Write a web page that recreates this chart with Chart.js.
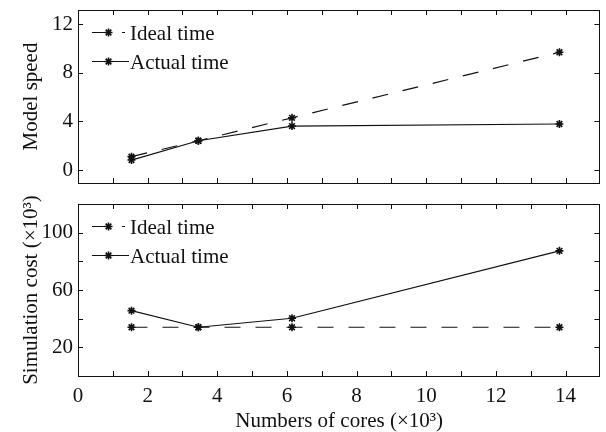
<!DOCTYPE html>
<html>
<head>
<meta charset="utf-8">
<script src="https://cdn.jsdelivr.net/npm/chart.js@4.4.0/dist/chart.umd.min.js"></script>
<style>
  html, body { margin: 0; padding: 0; background: #fff; overflow: hidden; }
  #wrap { position: relative; width: 606px; height: 432px; background: #fff; overflow: hidden; }
  canvas { position: absolute; left: 0; }
  #c1 { top: 0; }
  #c2 { top: 195px; }
</style>
</head>
<body>
<div id="wrap">
  <canvas id="c1" width="606" height="195"></canvas>
  <canvas id="c2" width="606" height="239"></canvas>
</div>
<script>
// ---- data (cores in thousands) ----
const cores = [1.536, 3.456, 6.144, 13.824];
const idealSpeed = [1.1, 2.41, 4.3, 9.7];
const actualSpeed = [0.82, 2.41, 3.62, 3.79];
const idealCost = [34, 34, 34, 34];
const actualCost = [45.6, 34, 40.3, 87.3];
const seriesNames = ['Ideal time', 'Actual time'];
const xTitle = 'Numbers of cores (\u00d710\u00b3)';
const yTitleTop = 'Model speed';
const yTitleBottom = 'Simulation cost (\u00d710\u00b3)';

const FONT = 'Liberation Serif, Times New Roman, serif';
const FS = 21;
const INK = '#111';

function pts(xs, ys) { return xs.map((x, i) => ({ x: x, y: ys[i] })); }

function makeDatasets(ideal, actual) {
  return [
    { label: seriesNames[0], data: pts(cores, ideal), borderColor: INK, backgroundColor: INK,
      borderWidth: 1.2, borderDash: [16, 15], pointStyle: 'star', pointRadius: 4,
      pointBorderWidth: 1.6, pointBorderColor: INK, tension: 0, fill: false },
    { label: seriesNames[1], data: pts(cores, actual), borderColor: INK, backgroundColor: INK,
      borderWidth: 1.2, pointStyle: 'star', pointRadius: 4,
      pointBorderWidth: 1.6, pointBorderColor: INK, tension: 0, fill: false }
  ];
}

// frame + inward ticks on all four sides
const framePlugin = {
  id: 'frame',
  afterDraw(chart) {
    const { ctx, chartArea: a, scales } = chart;
    ctx.save();
    ctx.strokeStyle = INK;
    ctx.lineWidth = 1;
    ctx.setLineDash([]);
    ctx.strokeRect(Math.round(a.left) + 0.5, Math.round(a.top) + 0.5,
                   Math.round(a.right - a.left) - 1, Math.round(a.bottom - a.top));
    const L = 5;
    ctx.beginPath();
    scales.x.ticks.forEach(t => {
      const px = Math.round(scales.x.getPixelForValue(t.value)) + 0.5;
      if (px <= a.left + 1 || px >= a.right - 1) return;
      ctx.moveTo(px, a.top); ctx.lineTo(px, a.top + L);
      ctx.moveTo(px, a.bottom); ctx.lineTo(px, a.bottom - L);
    });
    scales.y.ticks.forEach(t => {
      const py = Math.round(scales.y.getPixelForValue(t.value)) + 0.5;
      if (py <= a.top + 1 || py >= a.bottom - 1) return;
      ctx.moveTo(a.left, py); ctx.lineTo(a.left + L, py);
      ctx.moveTo(a.right - 1, py); ctx.lineTo(a.right - 1 - L, py);
    });
    ctx.stroke();
    ctx.restore();
  }
};

// legend drawn inside the plot, upper-left
const legendPlugin = {
  id: 'innerLegend',
  afterDraw(chart) {
    const { ctx, chartArea: a } = chart;
    ctx.save();
    chart.data.datasets.forEach((ds, i) => {
      const y = a.top + 22 + i * 29;
      const x0 = a.left + 14, x1 = a.left + (i === 0 ? 47 : 51), xs = a.left + 30.5;
      ctx.strokeStyle = INK;
      ctx.lineWidth = ds.borderWidth;
      ctx.setLineDash(ds.borderDash ? [17, 13] : []);
      ctx.beginPath(); ctx.moveTo(x0, y + 0.5); ctx.lineTo(x1, y + 0.5); ctx.stroke();
      ctx.setLineDash([]);
      ctx.lineWidth = ds.pointBorderWidth;
      ctx.strokeStyle = INK;
      ctx.fillStyle = INK;
      Chart.helpers.drawPoint(ctx, { pointStyle: 'star', rotation: 0, radius: 4,
                                     borderWidth: ds.pointBorderWidth }, xs, y + 0.5);
      ctx.fillStyle = INK;
      ctx.font = FS + 'px ' + FONT;
      ctx.textBaseline = 'middle';
      ctx.textAlign = 'left';
      ctx.fillText(ds.label, a.left + 52, y + 2);
    });
    ctx.restore();
  }
};

function zeroPad(s) { s.paddingTop = 0; s.paddingBottom = 0; s.paddingLeft = 0; s.paddingRight = 0; }

function baseOptions(cfg) {
  return {
    responsive: false,
    animation: false,
    events: [],
    layout: { padding: { top: cfg.padTop, right: 2, left: 0, bottom: 0 } },
    plugins: { legend: { display: false }, tooltip: { enabled: false } },
    scales: {
      x: {
        type: 'linear', min: 0, max: 15,
        grid: { display: false, drawTicks: false },
        border: { display: false },
        ticks: {
          display: cfg.showX, stepSize: 1, padding: 8, color: INK,
          font: { family: FONT, size: FS },
          maxRotation: 0, autoSkip: false,
          callback: v => (v % 2 === 0 && v <= 14) ? String(v) : ''
        },
        title: { display: cfg.showX, text: xTitle, color: INK,
                 font: { family: FONT, size: FS }, padding: { top: 0, bottom: 0 } },
        afterFit: s => { s.height = cfg.xHeight; zeroPad(s); }
      },
      y: {
        type: 'linear', min: cfg.yMin, max: cfg.yMax,
        grid: { display: false, drawTicks: false },
        border: { display: false },
        ticks: {
          stepSize: cfg.yStep, includeBounds: false, padding: 5, color: INK,
          font: { family: FONT, size: FS },
          callback: cfg.yLabel
        },
        title: { display: true, text: cfg.yTitle, color: INK,
                 font: { family: FONT, size: FS }, padding: { top: 19, bottom: 0 } },
        afterFit: s => { s.width = 78; zeroPad(s); }
      }
    }
  };
}

new Chart(document.getElementById('c1'), {
  type: 'line',
  data: { datasets: makeDatasets(idealSpeed, actualSpeed) },
  options: baseOptions({
    padTop: 10, showX: false, xHeight: 12,
    yMin: -1.07, yMax: 13.18, yStep: 2,
    yLabel: v => (Math.abs(v % 4) < 1e-9 ? String(v) : ''),
    yTitle: yTitleTop
  }),
  plugins: [framePlugin, legendPlugin]
});

new Chart(document.getElementById('c2'), {
  type: 'line',
  data: { datasets: makeDatasets(idealCost, actualCost) },
  options: baseOptions({
    padTop: 9, showX: true, xHeight: 58,
    yMin: 0, yMax: 120, yStep: 20,
    yLabel: v => ((v === 20 || v === 60 || v === 100) ? String(v) : ''),
    yTitle: yTitleBottom
  }),
  plugins: [framePlugin, legendPlugin]
});
</script>
</body>
</html>
